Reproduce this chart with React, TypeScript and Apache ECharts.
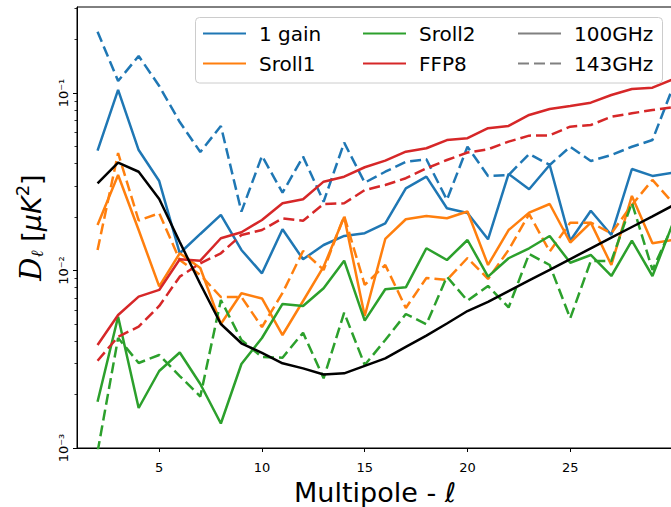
import React, { useEffect, useRef } from 'react';
import * as echarts from 'echarts';

const multipoles = [2, 3, 4, 5, 6, 7, 8, 9, 10, 11, 12, 13, 14, 15, 16, 17, 18, 19, 20, 21, 22, 23, 24, 25, 26, 27, 28, 29, 30];

const gain100 = [0.0473, 0.104, 0.0477, 0.0319, 0.0125, 0.01606, 0.02055, 0.01305, 0.00964, 0.01707, 0.01156, 0.01392, 0.01565, 0.01621, 0.01845, 0.02904, 0.03377, 0.02241, 0.02108, 0.01499, 0.03497, 0.02867, 0.0393, 0.01472, 0.02172, 0.01585, 0.0373, 0.0341, 0.0356];
const gain143 = [0.2215, 0.1168, 0.1616, 0.1095, 0.0686, 0.0465, 0.0652, 0.02145, 0.0442, 0.02743, 0.0438, 0.0244, 0.0525, 0.03124, 0.036, 0.041, 0.0423, 0.025, 0.0498, 0.0341, 0.0345, 0.0453, 0.0393, 0.0498, 0.0414, 0.0447, 0.0498, 0.0543, 0.108];
const sroll1_100 = [0.01805, 0.0345, 0.0169, 0.00813, 0.0125, 0.01033, 0.004995, 0.00744, 0.00696, 0.00433, 0.00673, 0.0105, 0.02001, 0.00554, 0.01505, 0.01943, 0.02028, 0.01968, 0.0215, 0.01074, 0.0169, 0.02117, 0.02369, 0.01438, 0.0186, 0.01074, 0.0263, 0.01423, 0.01485];
const sroll1_143 = [0.01305, 0.0459, 0.01913, 0.02101, 0.01146, 0.00943, 0.00709, 0.00709, 0.0048, 0.00747, 0.01288, 0.01007, 0.02028, 0.00829, 0.01074, 0.00615, 0.00907, 0.00884, 0.01176, 0.00896, 0.01305, 0.0208, 0.0128, 0.0186, 0.0186, 0.01621, 0.02339, 0.03236, 0.024];
const sroll2_100 = [0.001823, 0.005492, 0.00168, 0.002715, 0.003451, 0.002294, 0.001374, 0.002973, 0.004166, 0.00648, 0.00631, 0.00794, 0.01136, 0.005215, 0.00784, 0.00804, 0.01334, 0.01146, 0.01485, 0.00923, 0.01172, 0.01334, 0.01565, 0.01106, 0.01223, 0.00931, 0.01472, 0.00931, 0.01852];
const sroll2_143 = [0.00095, 0.004166, 0.003012, 0.003342, 0.002544, 0.00195, 0.00682, 0.00406, 0.003257, 0.003227, 0.004463, 0.00247, 0.005785, 0.002935, 0.00406, 0.005687, 0.004975, 0.00923, 0.00676, 0.00818, 0.00619, 0.01239, 0.01074, 0.00538, 0.01131, 0.01131, 0.0241, 0.01007, 0.01805];
const ffp8_100 = [0.003804, 0.005615, 0.00712, 0.00777, 0.01156, 0.01136, 0.01519, 0.01641, 0.01925, 0.0239, 0.0252, 0.03165, 0.03377, 0.03815, 0.0416, 0.0467, 0.0488, 0.0543, 0.0556, 0.0633, 0.0652, 0.0752, 0.0813, 0.0845, 0.0882, 0.0974, 0.1053, 0.1071, 0.1195];
const ffp8_143 = [0.003103, 0.004236, 0.004825, 0.00631, 0.00923, 0.01098, 0.0125, 0.01585, 0.0169, 0.01968, 0.01908, 0.02369, 0.0239, 0.0284, 0.0303, 0.0331, 0.0376, 0.0419, 0.0462, 0.0482, 0.0532, 0.0575, 0.0577, 0.0646, 0.066, 0.0735, 0.0768, 0.0802, 0.0831];
const model = [0.031, 0.0405, 0.036, 0.02528, 0.01447, 0.00839, 0.004995, 0.00389, 0.00343, 0.003, 0.00281, 0.002595, 0.002635, 0.0029, 0.0032, 0.00371, 0.0043, 0.00503, 0.00591, 0.00665, 0.00766, 0.0088, 0.01009, 0.0116, 0.01332, 0.0153, 0.01758, 0.0202, 0.02324];

const xTicks = [5, 10, 15, 20, 25];
const yMajorTicks = [0.001, 0.01, 0.1];
const yMinorTicks = [0.002, 0.003, 0.004, 0.005, 0.006, 0.007, 0.008, 0.009, 0.02, 0.03, 0.04, 0.05, 0.06, 0.07, 0.08, 0.09, 0.2, 0.3];

const BLUE = '#1f77b4';
const ORANGE = '#ff7f0e';
const GREEN = '#2ca02c';
const RED = '#d62728';
const GRAY = '#808080';
const DASH = [11, 5];
const LW = 2.5;

const SUP: Record<string, string> = { '-': '⁻', '0': '⁰', '1': '¹', '2': '²', '3': '³', '4': '⁴', '5': '⁵', '6': '⁶', '7': '⁷', '8': '⁸', '9': '⁹' };
const powLabel = (v: number) => {
  const e = Math.round(Math.log10(v));
  return '10' + String(e).split('').map((c) => SUP[c] || c).join('');
};

const pts = (arr: number[]) => multipoles.map((l, i) => [l, arr[i]]);

const line = (name: string, arr: number[], color: string, dashed: boolean, z = 2) => ({
  type: 'line',
  name,
  data: pts(arr),
  symbol: 'none',
  showSymbol: false,
  clip: true,
  z,
  color,
  lineStyle: { color, width: LW, type: dashed ? DASH : 'solid' },
  itemStyle: { color },
  emphasis: { disabled: true },
});

const legendCommon = {
  orient: 'vertical',
  itemWidth: 43,
  itemHeight: 14,
  itemGap: 10,
  selectedMode: false,
  z: 20,
  padding: 0,
  itemStyle: { opacity: 0, color: 'transparent', borderWidth: 0 },
  textStyle: { fontFamily: 'DejaVu Sans', fontSize: 20, color: '#000', lineHeight: 20, padding: [0, 0, 0, 8] },
};

export default function App() {
  const ref = useRef<HTMLDivElement>(null);
  useEffect(() => {
    document.body.style.margin = '0';
    const chart = echarts.init(ref.current!, null, { renderer: 'svg', width: 671, height: 507 });
    const option: any = {
      animation: false,
      backgroundColor: '#fff',
      grid: {
        left: 77, top: 7, right: -2, bottom: 59,
        show: true, borderColor: '#000', borderWidth: 1, backgroundColor: 'transparent',
        containLabel: false, outerBoundsMode: 'none',
      },
      legend: [
        { ...legendCommon, left: 202, top: 23.5, data: ['1 gain', 'Sroll1'] },
        { ...legendCommon, left: 362, top: 23.5, data: ['Sroll2', 'FFP8'] },
        { ...legendCommon, left: 517, top: 23.5, data: ['100GHz', '143GHz'] },
      ],
      graphic: [
        {
          type: 'rect', z: 15, silent: true,
          shape: { x: 195.5, y: 17.5, width: 467, height: 65.5, r: 4 },
          style: { fill: 'rgba(255,255,255,0.8)', stroke: '#cccccc', lineWidth: 1 },
        },
      ],
      xAxis: {
        type: 'value', min: 1, max: 30,
        name: 'Multipole - ℓ', nameLocation: 'middle', nameGap: 25,
        nameTextStyle: { fontFamily: 'DejaVu Sans', fontSize: 27, color: '#000' },
        axisLine: { show: true, lineStyle: { color: '#000', width: 1 } },
        axisTick: { show: true, length: 4, customValues: xTicks, lineStyle: { color: '#000', width: 1 } },
        axisLabel: { show: true, customValues: xTicks, margin: 13, fontFamily: 'DejaVu Sans', fontSize: 13, color: '#000' },
        splitLine: { show: false },
      },
      yAxis: [
        {
          type: 'log', logBase: 10, min: 0.001, max: 0.305, position: 'left',
          name: '{d|D}{sub|ℓ}{n| [}{i|μK}{sup|2}{n|]}',
          nameLocation: 'middle', nameGap: 32, nameRotate: 90,
          nameTextStyle: {
            color: '#000', fontFamily: 'DejaVu Sans', fontSize: 27,
            rich: {
              d: { fontFamily: 'DejaVu Serif', fontStyle: 'italic', fontSize: 29, color: '#000', lineHeight: 32, verticalAlign: 'bottom' },
              sub: { fontFamily: 'DejaVu Serif', fontStyle: 'italic', fontSize: 17, color: '#000', lineHeight: 18, verticalAlign: 'bottom' },
              n: { fontFamily: 'DejaVu Sans', fontSize: 27, color: '#000', lineHeight: 32, verticalAlign: 'bottom' },
              i: { fontFamily: 'DejaVu Sans', fontStyle: 'italic', fontSize: 27, color: '#000', lineHeight: 32, verticalAlign: 'bottom' },
              sup: { fontFamily: 'DejaVu Sans', fontSize: 18, color: '#000', lineHeight: 38, verticalAlign: 'bottom', padding: [0, 0, 14, 0] },
            },
          },
          axisLine: { show: true, lineStyle: { color: '#000', width: 1 } },
          axisTick: { show: true, length: 4, customValues: yMajorTicks, lineStyle: { color: '#000', width: 1 } },
          axisLabel: { show: true, customValues: yMajorTicks, rotate: 90, margin: 7, fontFamily: 'DejaVu Sans', fontSize: 13, color: '#000', formatter: powLabel },
          splitLine: { show: false },
          minorTick: { show: false },
        },
        {
          type: 'log', logBase: 10, min: 0.001, max: 0.305, position: 'left', offset: 0,
          axisLine: { show: false },
          axisTick: { show: true, length: 2.5, customValues: yMinorTicks, lineStyle: { color: '#000', width: 0.8 } },
          axisLabel: { show: false },
          splitLine: { show: false },
        },
      ],
      series: [
        line('1 gain', gain100, BLUE, false),
        line('1 gain 143GHz', gain143, BLUE, true),
        line('Sroll1', sroll1_100, ORANGE, false),
        line('Sroll1 143GHz', sroll1_143, ORANGE, true),
        line('Sroll2', sroll2_100, GREEN, false),
        line('Sroll2 143GHz', sroll2_143, GREEN, true),
        line('FFP8', ffp8_100, RED, false),
        line('FFP8 143GHz', ffp8_143, RED, true),
        line('Model', model, '#000', false, 3),
        line('100GHz', [], GRAY, false),
        line('143GHz', [], GRAY, true),
      ],
    };
    chart.setOption(option);
    return () => chart.dispose();
  }, []);
  return <div ref={ref} style={{ width: 671, height: 507, position: 'absolute', left: 0, top: 0 }} />;
}
